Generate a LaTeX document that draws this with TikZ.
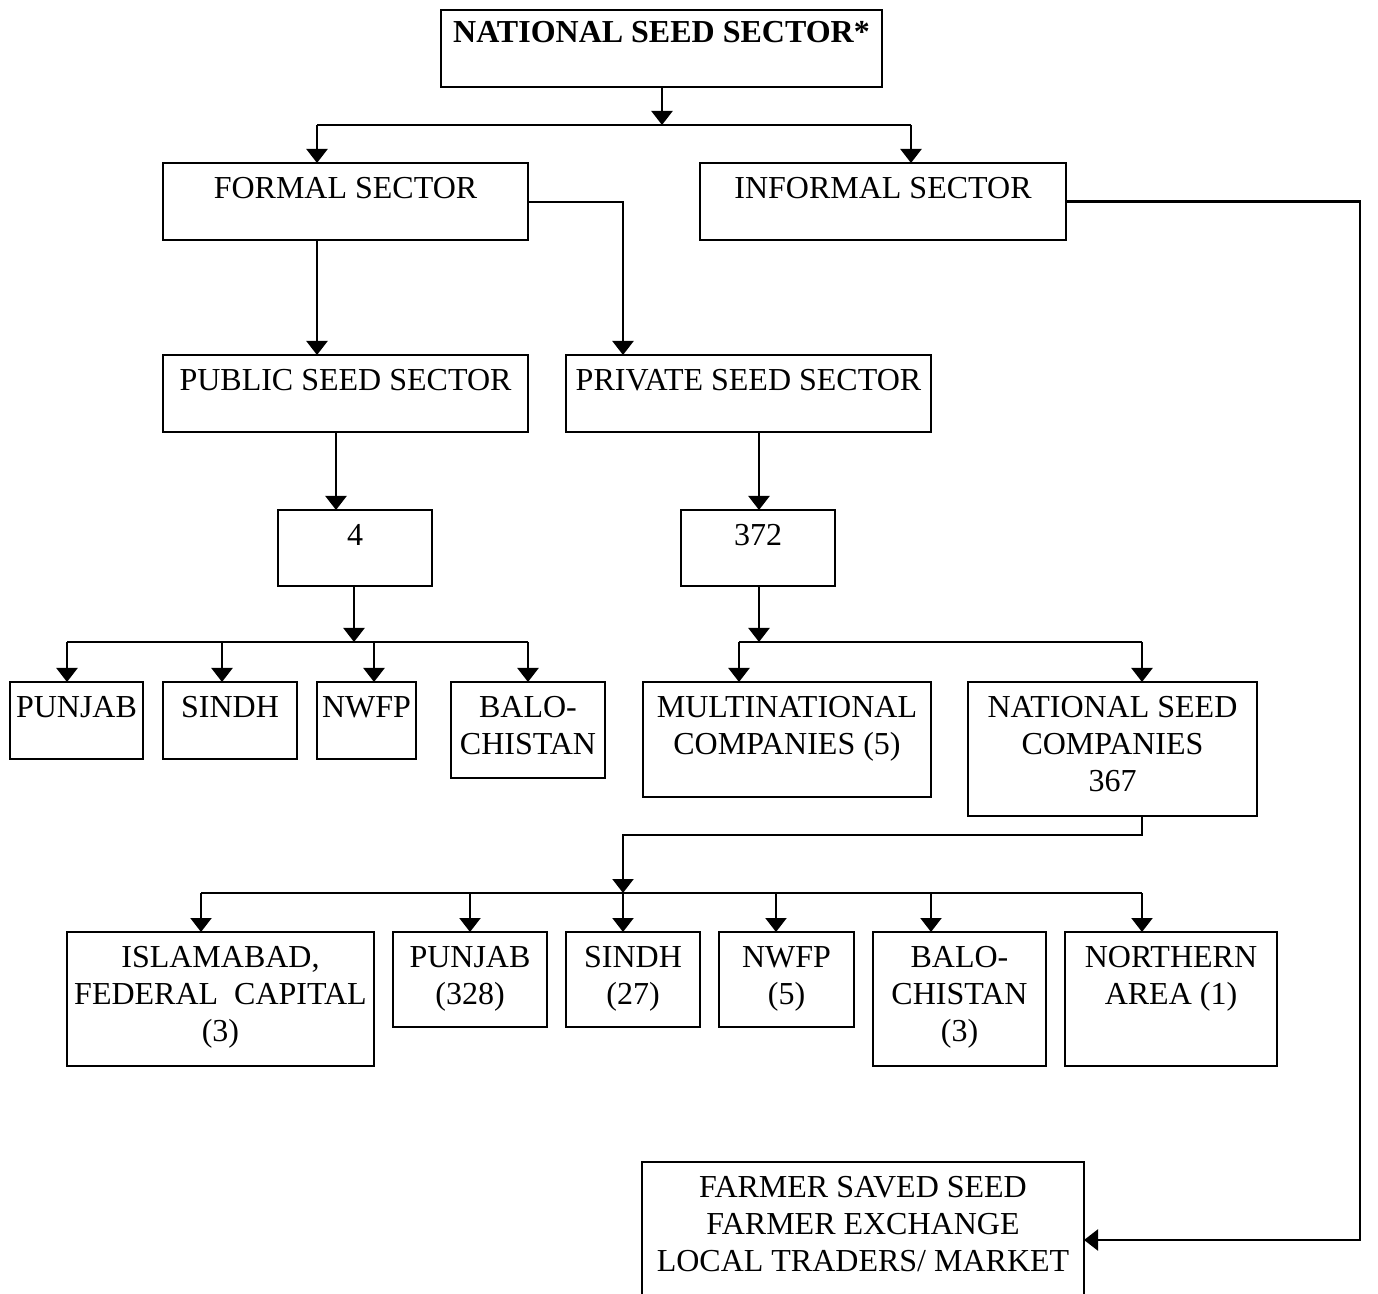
\documentclass[tikz,border=0pt]{standalone}
\usepackage{fontspec}
\setmainfont{Liberation Serif}
\usetikzlibrary{arrows.meta}
\tikzset{
 box/.style={draw, line width=1pt, inner sep=0pt, outer sep=0pt},
 txt/.style={align=center, inner sep=0pt, font=\fontsize{16}{18.5}\selectfont},
 conn/.style={line width=1.1pt},
 arr/.style={conn, -{Triangle[length=7pt,width=10.5pt]}},
}
\newcommand\bx[7][7pt]{%
 \pgfmathsetlengthmacro\mybw{(#5-#3)*0.5pt}%
 \pgfmathsetlengthmacro\mybh{(#6-#4)*0.5pt}%
 \node[box, minimum width=\mybw, minimum height=\mybh] (#2) at ({(#3+#5)/2},{(#4+#6)/2}) {};%
 \node[txt, anchor=north] (#2-t) at ([yshift=-#1]#2.north) {#7};}
\begin{document}
\begin{tikzpicture}[x=0.5pt,y=-0.5pt]
\clip (0,0) rectangle (1378,1294);
\bx[5.5pt]{nat}{441}{10}{882}{87}{\textbf{NATIONAL SEED SECTOR*}}
\bx{formal}{163}{163}{528}{240}{FORMAL SECTOR}
\bx{informal}{700}{163}{1066}{240}{INFORMAL SECTOR}
\bx{public}{163}{355}{528}{432}{PUBLIC SEED SECTOR}
\bx{private}{566}{355}{931}{432}{PRIVATE SEED SECTOR}
\bx{four}{278}{510}{432}{586}{4}
\bx{n372}{681}{510}{835}{586}{372}
\bx{punjabA}{10}{682}{143}{759}{PUNJAB}
\bx{sindhA}{163}{682}{297}{759}{SINDH}
\bx{nwfpA}{317}{682}{416}{759}{NWFP}
\bx{baloA}{451}{682}{605}{778}{BALO-\\CHISTAN}
\bx{multi}{643}{682}{931}{797}{MULTINATIONAL\\COMPANIES (5)}
\bx{nsc}{968}{682}{1257}{816}{NATIONAL SEED\\COMPANIES\\367}
\bx{isl}{67}{932}{374}{1066}{ISLAMABAD,\\FEDERAL\ \ CAPITAL\\(3)}
\bx{punjabB}{393}{932}{547}{1027}{PUNJAB\\(328)}
\bx{sindhB}{566}{932}{700}{1027}{SINDH\\(27)}
\bx{nwfpB}{719}{932}{854}{1027}{NWFP\\(5)}
\bx{baloB}{873}{932}{1046}{1066}{BALO-\\CHISTAN\\(3)}
\bx{north}{1065}{932}{1277}{1066}{NORTHERN\\AREA (1)}
\bx{farmer}{642}{1162}{1084}{1318}{FARMER SAVED SEED\\FARMER EXCHANGE\\LOCAL TRADERS/ MARKET}
% top split
\coordinate (j0) at (662,125);
\coordinate (jL) at (317,125);
\coordinate (jR) at (911,125);
\draw[arr] (nat.south -| j0) -- (j0);
\draw[conn] (jL) -- (jR);
\draw[arr] (jL) -- (jL |- formal.north);
\draw[arr] (jR) -- (jR |- informal.north);
% formal
\coordinate (cF) at (317,240);
\draw[arr] (formal.south -| cF) -- (cF |- public.north);
\coordinate (cP) at (623,202);
\draw[arr] (formal.east |- cP) -| (cP |- private.north);
\coordinate (c4) at (336,0);
\draw[arr] (public.south -| c4) -- (c4 |- four.north);
\coordinate (c372) at (759,0);
\draw[arr] (private.south -| c372) -- (c372 |- n372.north);
% public branches
\coordinate (b4) at (354,642);
\coordinate (b4L) at (67,642);
\coordinate (b4s) at (222,642);
\coordinate (b4n) at (374,642);
\coordinate (b4R) at (528,642);
\draw[arr] (four.south -| b4) -- (b4);
\draw[conn] (b4L) -- (b4R);
\draw[arr] (b4L) -- (b4L |- punjabA.north);
\draw[arr] (b4s) -- (b4s |- sindhA.north);
\draw[arr] (b4n) -- (b4n |- nwfpA.north);
\draw[arr] (b4R) -- (b4R |- baloA.north);
% private branches
\coordinate (b3) at (759,642);
\coordinate (b3L) at (739,642);
\coordinate (b3R) at (1142,642);
\draw[arr] (n372.south -| b3) -- (b3);
\draw[conn] (b3L) -- (b3R);
\draw[arr] (b3L) -- (b3L |- multi.north);
\draw[arr] (b3R) -- (b3R |- nsc.north);
% national seed companies branches
\coordinate (k1) at (1142,835);
\coordinate (k2) at (623,835);
\coordinate (k3) at (623,893);
\draw[arr] (nsc.south -| k1) -- (k1) -- (k2) -- (k3);
\coordinate (r1) at (201,893);
\coordinate (r2) at (470,893);
\coordinate (r3) at (623,893);
\coordinate (r4) at (776,893);
\coordinate (r5) at (931,893);
\coordinate (r6) at (1142,893);
\draw[conn] (r1) -- (r6);
\draw[arr] (r1) -- (r1 |- isl.north);
\draw[arr] (r2) -- (r2 |- punjabB.north);
\draw[arr] (r3) -- (r3 |- sindhB.north);
\draw[arr] (r4) -- (r4 |- nwfpB.north);
\draw[arr] (r5) -- (r5 |- baloB.north);
\draw[arr] (r6) -- (r6 |- north.north);
% informal
\coordinate (m) at (1360,0);
\draw[arr] (informal.east) -- (informal.east -| m) |- (farmer.east);
\end{tikzpicture}
\end{document}
